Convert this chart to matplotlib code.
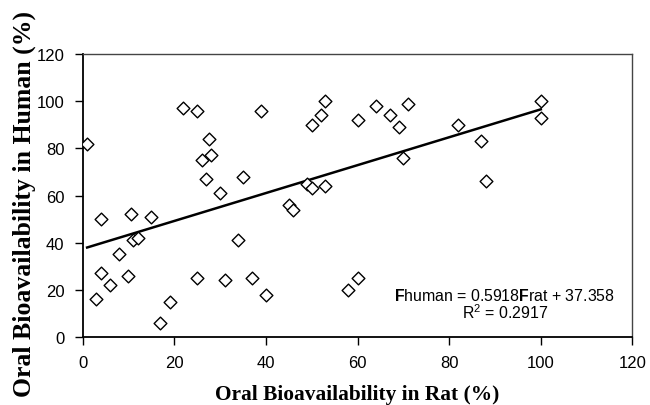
import numpy as np
import matplotlib
matplotlib.use("Agg")
import matplotlib.pyplot as plt

# Data (oral bioavailability, %)
rat = [1, 4, 3, 4, 6, 8, 10, 10.5, 11, 12, 15, 17, 19, 22, 25, 25, 27.5, 26, 28, 27,
       30, 31, 34, 35, 37, 39, 40, 45, 46, 49, 50, 53, 50, 52, 53, 60, 58, 60, 64, 67,
       69, 71, 70, 82, 87, 88, 100, 100]
human = [82, 50, 16, 27, 22, 35, 26, 52, 41, 42, 51, 6, 15, 97, 96, 25, 84, 75, 77, 67,
         61, 24, 41, 68, 25, 96, 18, 56, 54, 65, 63, 64, 90, 94, 100, 92, 20, 25, 98, 94,
         89, 99, 76, 90, 83, 66, 100, 93]

# Trend line as given in the chart
slope = 0.5918
intercept = 37.358

plt.rcParams['font.family'] = ['Liberation Sans', 'DejaVu Sans']
plt.rcParams['mathtext.fontset'] = 'custom'
plt.rcParams['mathtext.rm'] = 'Liberation Sans'
plt.rcParams['mathtext.bf'] = 'Liberation Sans:bold'

fig = plt.figure(figsize=(6.5, 4.06), dpi=100)
ax = fig.add_axes([0.127, 0.1675, 0.846, 0.697])

ax.scatter(rat, human, marker='D', s=42, facecolors='white', edgecolors='black',
           linewidths=1.0, zorder=3)

xs = np.array(sorted(rat))
ax.plot(xs, slope * xs + intercept, color='black', lw=1.8, zorder=2)

ax.set_xlim(0, 120)
ax.set_ylim(0, 120)
ax.set_xticks(range(0, 121, 20))
ax.set_yticks(range(0, 121, 20))
ax.tick_params(direction='out', length=6, width=1, labelsize=12, pad=7)

for side in ['left', 'bottom']:
    ax.spines[side].set_linewidth(1.3)
for side in ['top', 'right']:
    ax.spines[side].set_linewidth(1.0)
    ax.spines[side].set_color('#444444')

ax.set_xlabel('Oral Bioavailability in Rat (%)', family='Liberation Serif',
              fontweight='bold', fontsize=15.4)
ax.set_ylabel('Oral Bioavailability in Human (%)', family='Liberation Serif',
              fontweight='bold', fontsize=18.5)
ax.xaxis.set_label_coords(0.5, -0.166)
ax.yaxis.set_label_coords(-0.085, 0.475)

ax.text(92.1, 17.8, r'$\mathbf{F}$human = 0.5918$\mathbf{F}$rat + 37.358',
        ha='center', va='center', fontsize=11.4)
ax.text(92.1, 10.6, r'R$^2$ = 0.2917', ha='center', va='center', fontsize=11.4)

fig.savefig('out.png', dpi=100)
